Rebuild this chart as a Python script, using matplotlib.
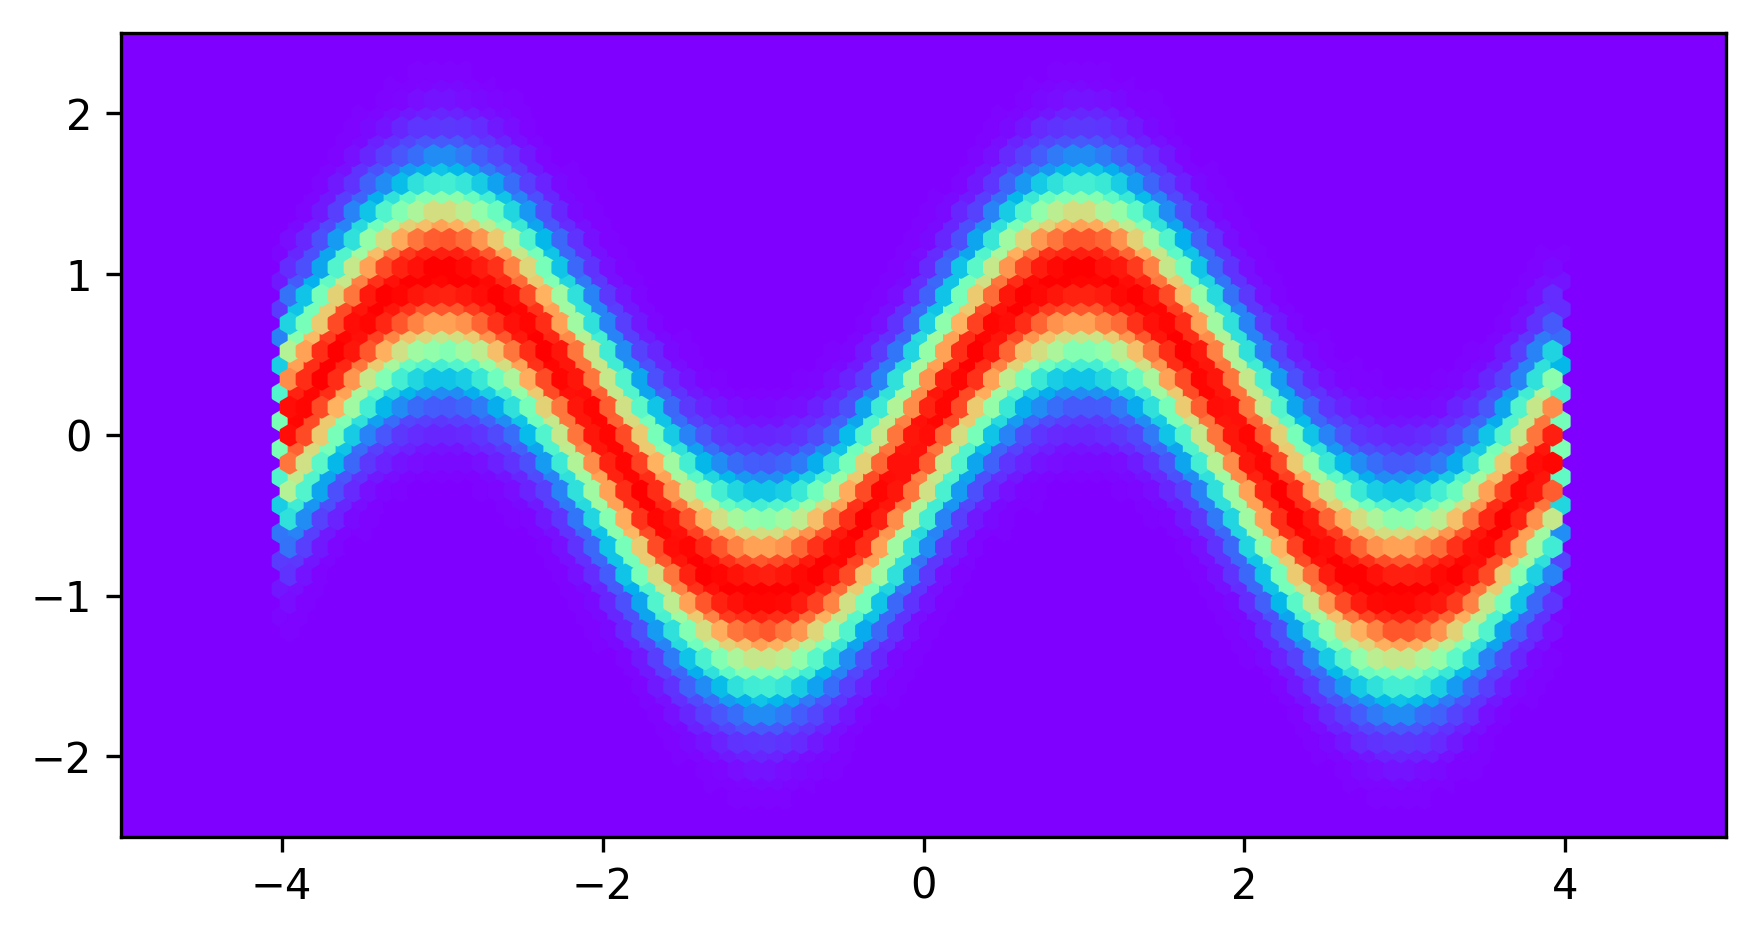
import numpy as np
import matplotlib
matplotlib.use("Agg")
import matplotlib.pyplot as plt

# centre of the red band, one value per hex column (x = -4 ... 4)
ridge_y = [0, .08, .16, .23, .31, .38, .45, .52, .59, .65, .71, .76, .81, .85, .89, .92, .95, .97, .99, 1, 1,
           1, .99, .97, .95, .92, .89, .85, .81, .76, .71, .65, .59, .52, .45, .38, .31, .23, .16, .08, 0,
           -.08, -.16, -.23, -.31, -.38, -.45, -.52, -.59, -.65, -.71, -.76, -.81, -.85, -.89, -.92, -.95, -.97, -.99, -1, -1,
           -1, -.99, -.97, -.95, -.92, -.89, -.85, -.81, -.76, -.71, -.65, -.59, -.52, -.45, -.38, -.31, -.23, -.16, -.08, 0,
           .04, .12, .20, .27, .35, .42, .49, .56, .62, .68, .74, .79, .83, .87, .91, .94, .96, .98, 1, 1,
           1, 1, .98, .96, .94, .91, .87, .83, .79, .74, .68, .62, .56, .49, .42, .35, .27, .20, .12, .04,
           -.04, -.12, -.20, -.27, -.35, -.42, -.49, -.56, -.62, -.68, -.74, -.79, -.83, -.87, -.91, -.94, -.96, -.98, -1, -1,
           -1, -1, -.98, -.96, -.94, -.91, -.87, -.83, -.79, -.74, -.68, -.62, -.56, -.49, -.42, -.35, -.27, -.20, -.12, -.04]

band_offset = [0, .05, .10, .15, .20, .25, .30, .35, .40, .45, .50, .55, .60, .65,
               .70, .75, .80, .85, .90, .95, 1.0, 1.05, 1.10, 1.15, 1.20, 1.25, 1.30]
band_level = [1, .995, .97, .95, .91, .85, .78, .71, .64, .56, .48, .41, .34, .28,
              .22, .17, .13, .10, .08, .06, .05, .035, .02, .015, .01, .006, .003]

# outermost hex columns only catch half as much, so they read paler
edge_factor = 0.5

xticks = [-4, -2, 0, 2, 4]
yticks = [-2, -1, 0, 1, 2]

# hex grid limits, the grid sits a bit off the round numbers in the original
hex_extent = (-4, 3.97, -3.915, 4.085)
grid = 80
row_h = (hex_extent[3] - hex_extent[2]) / int(grid / np.sqrt(3))

x_cols = np.linspace(hex_extent[0], hex_extent[1], len(ridge_y))
off = np.array(band_offset)
off = np.concatenate([-off[:0:-1], off])
lev = np.array(band_level)
lev = np.concatenate([lev[:0:-1], lev])

xs = np.repeat(x_cols, len(off))
ys = np.array([r + off for r in ridge_y]).ravel()
cs = np.tile(lev, len(x_cols))

# edge columns: pale them, and keep points out of the neighbouring inner hexes
edge = (xs == x_cols[0]) | (xs == x_cols[-1])
cs[edge] = cs[edge] * edge_factor
row = (ys - hex_extent[2]) / row_h
keep = ~edge | (np.abs(row - np.round(row)) < 1 / 3)
xs, ys, cs = xs[keep], ys[keep], cs[keep]

fig = plt.figure(figsize=(1758 / 300, 937 / 300), dpi=300)
ax = fig.add_axes([121.3 / 1758, (937 - 836.7) / 937, (1725.8 - 121.3) / 1758, (836.7 - 33) / 937])
ax.set_facecolor(plt.cm.rainbow(0.0))

ax.hexbin(xs, ys, C=cs, reduce_C_function=np.mean, gridsize=grid, extent=hex_extent,
          cmap="rainbow", vmin=0, vmax=1, mincnt=1)

ax.set_xlim(-5, 5)
ax.set_ylim(-2.5, 2.5)
ax.set_xticks(xticks)
ax.set_yticks(yticks)

fig.savefig("out.png", dpi=300)
